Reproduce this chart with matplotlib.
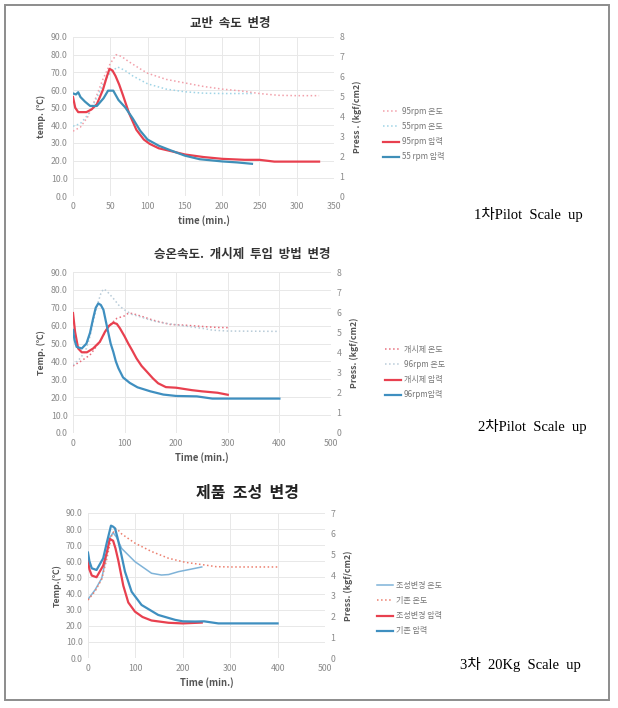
import matplotlib.pyplot as plt
from matplotlib.lines import Line2D
from matplotlib.patches import Rectangle

plt.rcParams['font.family'] = ['Noto Sans CJK KR', 'DejaVu Sans']

# ---- panel 1: 교반 속도 변경 ----
p1_t95_x = [0, 10, 20, 30, 40, 50, 58, 65, 75, 90, 100, 125, 150, 175, 200, 225, 250, 275, 300, 330]
p1_t95 = [36.7, 39, 45, 55, 66, 75, 80, 79, 76, 72, 69.5, 66, 64, 62, 60.5, 59.5, 58, 57, 56.8, 56.8]
p1_t55_x = [0, 10, 20, 30, 40, 50, 60, 70, 80, 100, 125, 150, 175, 200, 240]
p1_t55 = [39.5, 41, 46, 54, 63, 70, 73, 71, 68, 63.5, 60.5, 59, 58.2, 58, 58]
p1_p95_x = [0, 3, 7, 18, 25, 32, 40, 45, 49, 53, 57, 62, 67, 75, 85, 95, 103, 115, 130, 150, 175, 200, 230, 250, 270, 300, 330]
p1_p95 = [4.98, 4.44, 4.22, 4.22, 4.36, 4.62, 5.33, 5.96, 6.40, 6.31, 6.04, 5.60, 5.07, 4.18, 3.33, 2.84, 2.62,
          2.40, 2.27, 2.09, 1.96, 1.87, 1.82, 1.82, 1.73, 1.73, 1.73]
p1_p55_x = [0, 4, 7, 10, 16, 23, 32, 41, 47, 54, 61, 70, 80, 90, 100, 115, 130, 150, 170, 200, 220, 240]
p1_p55 = [5.16, 5.11, 5.22, 4.98, 4.75, 4.53, 4.53, 4.92, 5.30, 5.30, 4.83, 4.46, 3.91, 3.29, 2.84, 2.53, 2.31,
          2.03, 1.85, 1.74, 1.69, 1.62]
p1_labels = ['95rpm 온도', '55rpm 온도', '95rpm 압력', '55 rpm 압력']

# ---- panel 2: 승온속도, 개시제 투입 방법 변경 ----
p2_tini_x = [0, 14, 33, 52, 68, 85, 100, 107, 115, 130, 156, 188, 220, 258, 280, 300]
p2_tini = [37.5, 39.9, 43.6, 51, 59.4, 64.1, 65.5, 66.9, 66.8, 65.5, 63, 60.7, 60.2, 59.4, 59, 58.9]
p2_t96_x = [0, 7, 15, 26, 33, 39, 44, 49, 54, 59, 65, 78, 90, 100, 114, 130, 156, 180, 195, 220, 253, 270, 300, 350, 400]
p2_t96 = [38, 39.9, 42, 47.3, 54, 62, 68, 73.4, 78, 80.5, 79.5, 75.3, 71, 68.8, 66.3, 65, 62.6, 61.3, 60.7, 59.7,
          58.4, 57.5, 57, 56.9, 56.8]
p2_pini_x = [0, 4, 10, 17, 27, 39, 52, 62, 70, 78, 85, 91, 100, 107, 115, 123, 133, 143, 155, 165, 180, 200, 230,
             250, 280, 300]
p2_pini = [5.96, 5.03, 4.20, 4.01, 4.01, 4.20, 4.53, 5.03, 5.33, 5.48, 5.42, 5.20, 4.80, 4.45, 4.09, 3.71, 3.33,
           3.05, 2.71, 2.47, 2.28, 2.25, 2.13, 2.07, 2.00, 1.90]
p2_p96_x = [0, 3, 7, 17, 26, 33, 39, 44, 49, 54, 59, 64, 68, 73, 78, 83, 88, 97, 110, 125, 150, 175, 200, 240, 270,
            300, 400]
p2_p96 = [5.12, 4.62, 4.28, 4.20, 4.44, 4.98, 5.69, 6.22, 6.44, 6.36, 6.12, 5.51, 5.03, 4.44, 4.04, 3.56, 3.22,
          2.76, 2.49, 2.27, 2.07, 1.91, 1.84, 1.82, 1.71, 1.71, 1.71]
p2_labels = ['개시제 온도', '96rpm 온도', '개시제 압력', '96rpm압력']

# ---- panel 3: 제품 조성 변경 ----
p3_tnew_x = [0, 15, 29, 38, 46, 53, 60, 71, 99, 120, 134, 155, 170, 191, 215, 240]
p3_tnew = [36.4, 42.3, 49.5, 62, 74.7, 77.8, 75, 68, 59.8, 55.5, 52.6, 51.5, 51.8, 53.6, 55, 56.5]
p3_told_x = [0, 15, 29, 40, 50, 57, 61, 71, 99, 134, 170, 205, 247, 270, 300, 400]
p3_told = [36, 41.5, 49, 62, 76, 80, 80.2, 77, 71.3, 66.1, 61.9, 59.4, 57.7, 56.7, 56.5, 56.5]
p3_pnew_x = [0, 3, 8, 18, 32, 40, 46, 53, 58, 64, 74.5, 85, 99, 115, 134, 170, 200, 240]
p3_pnew = [4.73, 4.28, 3.98, 3.90, 4.46, 5.13, 5.75, 5.66, 5.29, 4.70, 3.49, 2.68, 2.24, 1.98, 1.81, 1.70, 1.67, 1.71]
p3_pold_x = [0, 3, 8, 18, 32, 40, 48.5, 53, 57, 62, 67.5, 78, 92, 113, 148, 184, 200, 226, 245, 275, 300, 400]
p3_pold = [5.09, 4.67, 4.33, 4.25, 4.81, 5.60, 6.39, 6.34, 6.26, 5.83, 5.29, 4.17, 3.20, 2.56, 2.08, 1.84, 1.77,
           1.76, 1.77, 1.67, 1.67, 1.67]
p3_labels = ['조성변경 온도', '기존 온도', '조성변경 압력', '기존 압력']

W, H = 618, 708
fig = plt.figure(figsize=(W / 100, H / 100), dpi=100)
fig.patches.append(Rectangle((5 / W, 1 - 700 / H), 604 / W, 695 / H, transform=fig.transFigure,
                             fill=False, edgecolor='#8c8c8c', linewidth=1.4))

TICK = '#8a8a8a'
LAB = '#555555'


def px_axes(left, top, right, bottom):
    return fig.add_axes([left / W, 1 - bottom / H, (right - left) / W, (bottom - top) / H])


def style(ax, ax2, xmax, xstep, pmax, xlabel, ylabel, ylabel2):
    ax.set_xlim(0, xmax)
    ax.set_ylim(0, 90)
    ax2.set_ylim(0, pmax)
    ax.set_xticks(range(0, xmax + 1, xstep))
    ax.set_yticks(range(0, 91, 10))
    ax.set_yticklabels(['%.1f' % v for v in range(0, 91, 10)])
    ax2.set_yticks(range(0, pmax + 1))
    for a in (ax, ax2):
        for s in a.spines.values():
            s.set_visible(False)
        a.tick_params(length=0, labelsize=6.3, labelcolor=TICK, pad=4)
    ax.grid(True, color='#e8e8e8', linewidth=0.7)
    ax.set_axisbelow(True)
    ax.set_xlabel(xlabel, fontsize=6.8, color=LAB, fontweight='bold', labelpad=3)
    ax.set_ylabel(ylabel, fontsize=6.3, color=LAB, fontweight='bold', labelpad=3)
    ax2.set_ylabel(ylabel2, fontsize=6.3, color=LAB, fontweight='bold', labelpad=6)


def add_legend(handles, labels, x, y):
    leg = fig.legend(handles, labels, loc='upper left', bbox_to_anchor=(x / W, 1 - y / H),
                     frameon=False, fontsize=5.8, handlelength=1.9, labelspacing=0.75, handletextpad=0.4)
    for t in leg.get_texts():
        t.set_color('#777777')


def caption(text, x, y):
    fig.text(x / W, 1 - y / H, text, ha='center', va='center', fontsize=10.5,
             family=['Liberation Serif', 'Noto Sans CJK KR'])


# panel 1
ax = px_axes(73, 37, 334, 196)
ax2 = ax.twinx()
h1 = ax.plot(p1_t95_x, p1_t95, ':', color='#f2a0aa', lw=1.1)[0]
h2 = ax.plot(p1_t55_x, p1_t55, ':', color='#9fd4e6', lw=1.1)[0]
h3 = ax2.plot(p1_p95_x, p1_p95, '-', color='#e8404f', lw=1.6)[0]
h4 = ax2.plot(p1_p55_x, p1_p55, '-', color='#3f8fb8', lw=1.6)[0]
style(ax, ax2, 350, 50, 8, 'time (min.)', 'temp. (℃)', 'Press . (kgf/cm2)')
fig.text(230 / W, 1 - 23 / H, '교반  속도  변경', ha='center', va='center', fontsize=9, fontweight='bold',
         color='#333333')
add_legend([h1, h2, h3, h4], p1_labels, 376, 100)
caption('1차Pilot  Scale  up', 528, 215)

# panel 2
ax = px_axes(73, 272, 331, 433)
ax2 = ax.twinx()
h1 = ax.plot(p2_tini_x, p2_tini, ':', color='#e8707e', lw=1.1)[0]
h2 = ax.plot(p2_t96_x, p2_t96, ':', color='#b8cbd8', lw=1.1)[0]
h3 = ax2.plot(p2_pini_x, p2_pini, '-', color='#e8404f', lw=1.6)[0]
h4 = ax2.plot(p2_p96_x, p2_p96, '-', color='#3f8fc0', lw=1.6)[0]
style(ax, ax2, 500, 100, 8, 'Time (min.)', 'Temp. (℃)', 'Press. (kgf/cm2)')
fig.text(242 / W, 1 - 255 / H, '승온속도.  개시제  투입  방법  변경', ha='center', va='center', fontsize=9,
         fontweight='bold', color='#333333')
add_legend([h1, h2, h3, h4], p2_labels, 378, 338)
caption('2차Pilot  Scale  up', 532, 427)

# panel 3
ax = px_axes(88, 513, 325, 658)
ax2 = ax.twinx()
h1 = ax.plot(p3_tnew_x, p3_tnew, '-', color='#7fb3d8', lw=1.1)[0]
h2 = ax.plot(p3_told_x, p3_told, ':', color='#ec7f6e', lw=1.1)[0]
h3 = ax2.plot(p3_pnew_x, p3_pnew, '-', color='#e8404f', lw=1.6)[0]
h4 = ax2.plot(p3_pold_x, p3_pold, '-', color='#3f8fc0', lw=1.6)[0]
style(ax, ax2, 500, 100, 7, 'Time (min.)', 'Temp.(℃)', 'Press. (kgf/cm2)')
fig.text(247 / W, 1 - 493 / H, '제품  조성  변경', ha='center', va='center', fontsize=11.5, fontweight='bold',
         color='#222222')
add_legend([h1, h2, h3, h4], p3_labels, 370, 574)
caption('3차  20Kg  Scale  up', 520, 665)

fig.savefig('out.png', dpi=100)
